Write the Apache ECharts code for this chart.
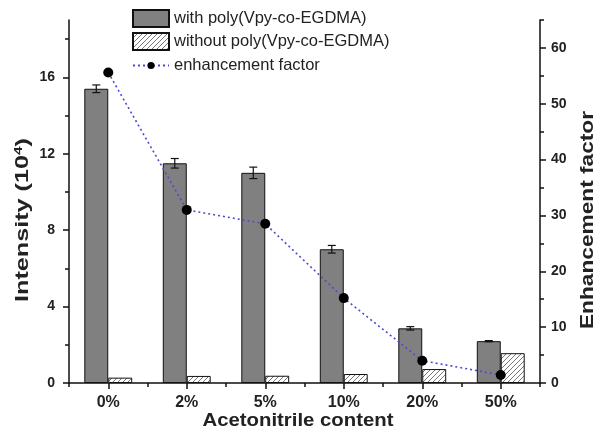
<!DOCTYPE html>
<html>
<head>
<meta charset="utf-8">
<script src="https://cdn.jsdelivr.net/npm/echarts@6/dist/echarts.min.js"></script>
<style>
  html, body { margin: 0; padding: 0; background: #fff; }
  #chart { width: 598px; height: 435px; }
</style>
</head>
<body>
<div id="chart"></div>
<script>
// Acetonitrile content in the sample solution
const categories = ['0%', '2%', '5%', '10%', '20%', '50%'];
// Intensity (10^4) with the poly(Vpy-co-EGDMA) layer, and its error
const withPoly = [15.4, 11.5, 11.0, 7.0, 2.86, 2.19];
const withPolyErr = [0.2, 0.25, 0.3, 0.2, 0.09, 0.03];
// Intensity (10^4) without the polymer layer
const withoutPoly = [0.28, 0.37, 0.38, 0.47, 0.73, 1.56];
// Enhancement factor (right axis)
const enhancement = [55.6, 31.0, 28.5, 15.2, 4.0, 1.44];

// Tick values for both value axes
const leftMajor = [0, 4, 8, 12, 16];
const leftMinor = [2, 6, 10, 14, 18];
const rightMajor = [0, 10, 20, 30, 40, 50, 60];
const rightMinor = [5, 15, 25, 35, 45, 55, 65];

const FONT = '"Liberation Sans", Arial, Helvetica, sans-serif';
const BAR_FRAC = 0.305;
const INK = '#222';

// Diagonal hatch for the bars without the polymer
function hatchPattern() {
  const c = document.createElement('canvas');
  c.width = 5; c.height = 5;
  const g = c.getContext('2d');
  g.fillStyle = '#ffffff';
  g.fillRect(0, 0, 5, 5);
  g.strokeStyle = '#777777';
  g.lineWidth = 1;
  g.beginPath();
  g.moveTo(-1, 6); g.lineTo(6, -1);
  g.moveTo(-1, 1); g.lineTo(1, -1);
  g.moveTo(4, 6); g.lineTo(6, 4);
  g.stroke();
  return c;
}

const chart = echarts.init(document.getElementById('chart'), null, { renderer: 'canvas' });

const axisLineStyle = { color: '#111', width: 1.5 };
const yTickLabel = { fontFamily: FONT, fontWeight: 'bold', fontSize: 14, color: INK };
const xTickLabel = { fontFamily: FONT, fontWeight: 'bold', fontSize: 16, color: INK };
const titleFont = 'bold 18px ' + FONT;

const option = {
  backgroundColor: '#ffffff',
  animation: false,
  legend: [
    {
      orient: 'vertical',
      left: 132,
      top: 9,
      padding: 0,
      itemWidth: 36,
      itemHeight: 17,
      itemGap: 4,
      textStyle: { fontFamily: FONT, fontSize: 16.5, color: INK },
      data: [
        { name: 'with poly(Vpy-co-EGDMA)', icon: 'rect' },
        { name: 'without poly(Vpy-co-EGDMA)', icon: 'rect' }
      ]
    },
    {
      orient: 'vertical',
      left: 132,
      top: 57,
      padding: 0,
      itemWidth: 36,
      itemHeight: 9,
      textStyle: { fontFamily: FONT, fontSize: 16.5, color: INK },
      data: ['enhancement factor']
    }
  ],
  grid: { left: 69, right: 58, top: 20, bottom: 52 },
  // axis titles, stretched along their length
  graphic: [
    {
      type: 'text', x: 298, y: 421, scaleX: 1.13, scaleY: 1,
      style: { text: 'Acetonitrile content', font: titleFont, fill: INK, align: 'center', verticalAlign: 'middle' }
    },
    {
      type: 'text', x: 23, y: 220, rotation: Math.PI / 2, scaleX: 1.4, scaleY: 1,
      style: {
        text: 'Intensity (10{sup|4})', font: titleFont, fill: INK, align: 'center', verticalAlign: 'middle',
        rich: { sup: { font: 'bold 11px ' + FONT, fill: INK, verticalAlign: 'top', padding: [0, 0, 8, 0] } }
      }
    },
    {
      type: 'text', x: 588, y: 220, rotation: Math.PI / 2, scaleX: 1.26, scaleY: 1,
      style: { text: 'Enhancement factor', font: titleFont, fill: INK, align: 'center', verticalAlign: 'middle' }
    }
  ],
  xAxis: [
    {
      type: 'category',
      data: categories,
      axisLine: { show: true, lineStyle: axisLineStyle },
      axisTick: { show: true, alignWithLabel: true, length: 6, lineStyle: axisLineStyle },
      axisLabel: Object.assign({ margin: 12 }, xTickLabel)
    },
    {
      type: 'category',
      data: categories,
      position: 'bottom',
      axisLine: { show: false },
      axisTick: { show: true, alignWithLabel: false, length: 4, lineStyle: axisLineStyle },
      axisLabel: { show: false }
    }
  ],
  yAxis: [
    {
      type: 'value',
      min: 0, max: 19,
      position: 'left',
      splitLine: { show: false },
      axisLine: { show: true, lineStyle: axisLineStyle },
      axisTick: { show: true, customValues: leftMajor, length: 6, lineStyle: axisLineStyle },
      axisLabel: Object.assign({ customValues: leftMajor, margin: 14 }, yTickLabel)
    },
    {
      type: 'value',
      min: 0, max: 65,
      position: 'right',
      splitLine: { show: false },
      axisLine: { show: true, lineStyle: axisLineStyle },
      axisTick: { show: true, customValues: rightMajor, length: 6, lineStyle: axisLineStyle },
      axisLabel: Object.assign({ customValues: rightMajor, margin: 11 }, yTickLabel)
    },
    {
      type: 'value',
      min: 0, max: 19,
      position: 'left',
      splitLine: { show: false },
      axisLine: { show: false },
      axisTick: { show: true, customValues: leftMinor, length: 4, lineStyle: axisLineStyle },
      axisLabel: { show: false }
    },
    {
      type: 'value',
      min: 0, max: 65,
      position: 'right',
      splitLine: { show: false },
      axisLine: { show: false },
      axisTick: { show: true, customValues: rightMinor, length: 4, lineStyle: axisLineStyle },
      axisLabel: { show: false }
    }
  ],
  series: [
    {
      name: 'with poly(Vpy-co-EGDMA)',
      type: 'bar',
      xAxisIndex: 0, yAxisIndex: 0,
      data: withPoly,
      barWidth: (BAR_FRAC * 100) + '%',
      barGap: '0%',
      itemStyle: { color: '#808080', borderColor: '#111', borderWidth: 1 },
      z: 2
    },
    {
      name: 'without poly(Vpy-co-EGDMA)',
      type: 'bar',
      xAxisIndex: 0, yAxisIndex: 0,
      data: withoutPoly,
      barWidth: (BAR_FRAC * 100) + '%',
      barGap: '0%',
      itemStyle: {
        color: { image: hatchPattern(), repeat: 'repeat' },
        borderColor: '#111', borderWidth: 1
      },
      z: 2
    },
    {
      // error bars on the bars with the polymer layer
      name: 'err',
      type: 'custom',
      xAxisIndex: 0, yAxisIndex: 0,
      data: withPoly.map((v, i) => [i, v, withPolyErr[i]]),
      renderItem: function (params, api) {
        const i = api.value(0);
        const v = api.value(1);
        const e = api.value(2);
        const band = api.size([1, 0])[0];
        const c = api.coord([i, v]);
        const x = c[0] - band * BAR_FRAC / 2;
        const yHi = api.coord([i, v + e])[1];
        const yLo = api.coord([i, v - e])[1];
        const cap = 4;
        const style = { stroke: '#111', lineWidth: 1.2 };
        return {
          type: 'group',
          children: [
            { type: 'line', shape: { x1: x, y1: yHi, x2: x, y2: yLo }, style: style },
            { type: 'line', shape: { x1: x - cap, y1: yHi, x2: x + cap, y2: yHi }, style: style },
            { type: 'line', shape: { x1: x - cap, y1: yLo, x2: x + cap, y2: yLo }, style: style }
          ]
        };
      },
      z: 3,
      silent: true
    },
    {
      name: 'enhancement factor',
      type: 'line',
      xAxisIndex: 0, yAxisIndex: 1,
      data: enhancement,
      symbol: 'circle',
      symbolSize: 10,
      itemStyle: { color: '#000' },
      lineStyle: { color: '#4a4ad0', width: 1.6, type: [2, 3] },
      z: 4
    }
  ]
};

chart.setOption(option);
</script>
</body>
</html>
